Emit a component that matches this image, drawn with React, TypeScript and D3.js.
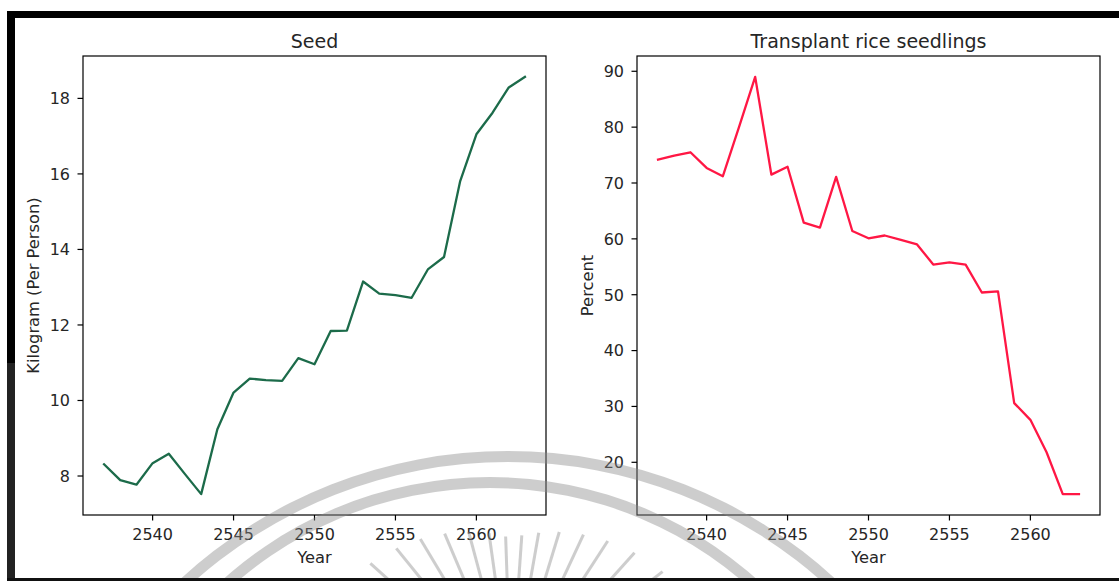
import React from 'react';
import * as d3 from 'd3';

const years = [2537, 2538, 2539, 2540, 2541, 2542, 2543, 2544, 2545, 2546, 2547, 2548, 2549, 2550,
  2551, 2552, 2553, 2554, 2555, 2556, 2557, 2558, 2559, 2560, 2561, 2562, 2563];
const seedKg = [8.31, 7.89, 7.77, 8.34, 8.59, 8.05, 7.52, 9.24, 10.21, 10.58, 10.54, 10.52, 11.12, 10.96,
  11.84, 11.85, 13.15, 12.83, 12.79, 12.72, 13.47, 13.8, 15.81, 17.05, 17.62, 18.29, 18.57];
const transplantPct = [74.2, 74.9, 75.5, 72.7, 71.2, 80.0, 89.0, 71.5, 72.9, 62.9, 62.0, 71.1, 61.4, 60.1,
  60.6, 59.8, 59.0, 55.4, 55.8, 55.4, 50.4, 50.6, 30.6, 27.6, 21.8, 14.3, 14.3];
const xTicks = [2540, 2545, 2550, 2555, 2560];
const seedTicks = [8, 10, 12, 14, 16, 18];
const pctTicks = [20, 30, 40, 50, 60, 70, 80, 90];

// watermark rays (degrees from vertical)
const rayAngles = [-58, -48, -39, -31, -23, -15, -8, -2, 4, 10, 17, 25, 33, 42, 52, 60];

const W = 1119;
const H = 581;
const FONT = "'DejaVu Sans', sans-serif";

function padDomain(vals: number[]): [number, number] {
  const [lo, hi] = d3.extent(vals) as [number, number];
  const m = (hi - lo) * 0.05;
  return [lo - m, hi + m];
}

type PanelProps = {
  left: number; right: number; top: number; bottom: number;
  values: number[]; color: string; ticks: number[]; title: string; ylabel: string;
};

function Panel({ left, right, top, bottom, values, color, ticks, title, ylabel }: PanelProps) {
  const x = d3.scaleLinear().domain(padDomain(years)).range([left, right]);
  const y = d3.scaleLinear().domain(padDomain(values)).range([bottom, top]);
  const line = d3.line<number>().x((_, i) => x(years[i])).y((d) => y(d));
  const cx = (left + right) / 2;
  const cy = (top + bottom) / 2;
  return (
    <g fontFamily={FONT} fill="#262626">
      <path d={line(values) || ''} fill="none" stroke={color} strokeWidth={2.3} strokeLinejoin="round" strokeLinecap="square" />
      <rect x={left} y={top} width={right - left} height={bottom - top} fill="none" stroke="#000" strokeWidth={1.2} />
      {xTicks.map((t) => (
        <g key={'x' + t}>
          <line x1={x(t)} x2={x(t)} y1={bottom} y2={bottom + 5.5} stroke="#000" strokeWidth={1.2} />
          <text x={x(t)} y={540} textAnchor="middle" fontSize={16}>{t}</text>
        </g>
      ))}
      {ticks.map((t) => (
        <g key={'y' + t}>
          <line x1={left - 5.5} x2={left} y1={y(t)} y2={y(t)} stroke="#000" strokeWidth={1.2} />
          <text x={left - 13} y={y(t) + 5.8} textAnchor="end" fontSize={16}>{t}</text>
        </g>
      ))}
      <text x={cx} y={47.5} textAnchor="middle" fontSize={19}>{title}</text>
      <text x={cx} y={562.5} textAnchor="middle" fontSize={16.3}>Year</text>
      <text transform={`translate(${left - 49.5},${cy}) rotate(-90)`} textAnchor="middle" dominantBaseline="central" fontSize={16.3}>{ylabel}</text>
    </g>
  );
}

function Watermark() {
  const outer = d3.arc<any>()({ innerRadius: 472, outerRadius: 483, startAngle: -0.75, endAngle: 0.75 }) || '';
  const inner = d3.arc<any>()({ innerRadius: 388, outerRadius: 399, startAngle: -0.8, endAngle: 0.8 }) || '';
  const rc = { x: 511, y: 690 };
  return (
    <g opacity={0.42}>
      <defs>
        <clipPath id="wmclip"><rect x={0} y={0} width={W} height={578} /></clipPath>
      </defs>
      <g clipPath="url(#wmclip)" fill="#8a8a8a">
        <path d={outer} transform="translate(508,934)" />
        <path d={inner} transform="translate(490,876)" />
        {rayAngles.map((a) => {
          const rad = (a * Math.PI) / 180;
          const rOut = 152 + 45 * Math.abs(a) / 58;
          const rIn = 40;
          return (
            <line key={a} x1={rc.x + rIn * Math.sin(rad)} y1={rc.y - rIn * Math.cos(rad)}
              x2={rc.x + rOut * Math.sin(rad)} y2={rc.y - rOut * Math.cos(rad)}
              stroke="#8a8a8a" strokeWidth={3} />
          );
        })}
      </g>
    </g>
  );
}

export default function App() {
  return (
    <svg width={W} height={H} viewBox={`0 0 ${W} ${H}`}
      style={{ position: 'absolute', left: 0, top: 0, display: 'block', background: '#fff' }}>
      <rect x={0} y={0} width={W} height={H} fill="#fff" />
      <Panel left={83} right={546} top={56} bottom={515} values={seedKg} color="#1c6b4a"
        ticks={seedTicks} title="Seed" ylabel="Kilogram (Per Person)" />
      <Panel left={637} right={1100} top={56} bottom={515} values={transplantPct} color="#ff1744"
        ticks={pctTicks} title="Transplant rice seedlings" ylabel="Percent" />
      <Watermark />
      <rect x={7} y={11} width={W - 7} height={7} fill="#000" />
      <rect x={7} y={11} width={8} height={352} fill="#000" />
      <rect x={7} y={363} width={8} height={H - 363} fill="#222" />
      <rect x={7} y={578} width={W - 7} height={3} fill="#111" />
    </svg>
  );
}
